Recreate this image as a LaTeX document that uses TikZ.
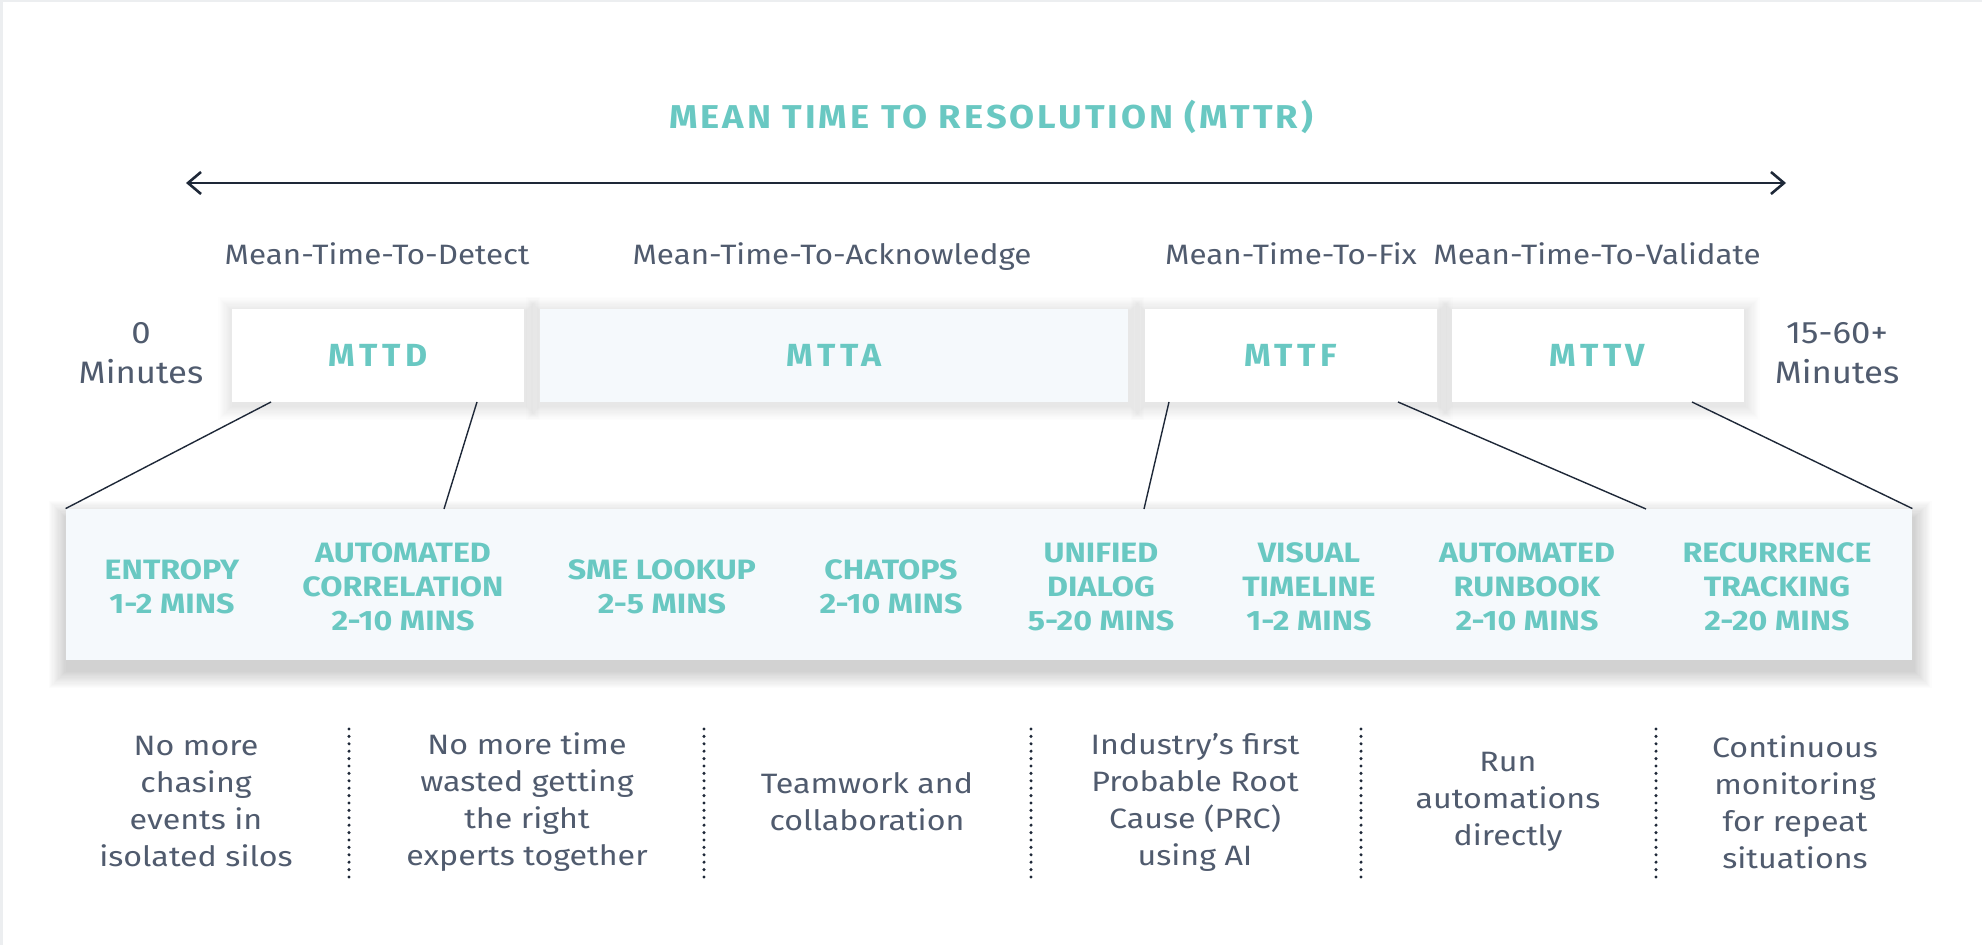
\documentclass[tikz,border=0pt]{standalone}
\usepackage{fontspec}
\setmainfont{Fira Sans}
\newfontfamily\lblfont[FakeStretch=1.12]{Fira Sans}
\newfontfamily\descfont[FakeStretch=1.15]{Fira Sans}
\newfontfamily\phasefont[LetterSpace=14,FakeStretch=1.06]{Fira Sans}
\newfontfamily\titlefont[LetterSpace=9,FakeStretch=1.1]{Fira Sans}
\newfontfamily\itemfont[FakeStretch=1.15]{Fira Sans}
\usetikzlibrary{arrows.meta}
\pgfdeclarelayer{bg}
\pgfsetlayers{bg,main}
\definecolor{teal1}{HTML}{69C8C2}
\definecolor{slate}{HTML}{505B6E}
\definecolor{ink}{HTML}{1E2838}
\definecolor{pale}{HTML}{F5F9FC}
\definecolor{edge}{HTML}{ECEEF0}
\tikzset{
  lbl/.style={font=\lblfont\fontsize{14}{16}\selectfont, text=slate, inner sep=0pt, anchor=base},
  mins/.style={font=\lblfont\fontsize{15.5}{20}\selectfont, text=slate, inner sep=0pt, align=center},
  desc/.style={font=\descfont\fontsize{14}{18.5}\selectfont, text=slate, align=center, inner sep=0pt},
  item/.style={font=\itemfont\bfseries\fontsize{14}{17}\selectfont, text=teal1, align=center, inner sep=0pt},
  phase/.style={fill=white, minimum width=146pt, minimum height=46.5pt, inner sep=0pt,
     font=\phasefont\bfseries\fontsize{16}{18}\selectfont, text=teal1},
  link/.style={draw=ink, line width=0.7pt},
  sep/.style={draw=ink, line width=1.7pt, line cap=round, dash pattern=on 0pt off 3.7pt},
  shade/.style={fill=black, opacity=#1},
}
% soft shadow behind a node: #1 node, #2 downward offset (pt), #3 steps, #4 opacity per step
\newcommand{\softshade}[4]{%
  \foreach \e in {1,...,#3}{%
    \fill[shade=#4] ([xshift=-\e*0.6pt+0.6pt, yshift=\e*0.6pt-#2]#1.north west)
      rectangle ([xshift=\e*0.6pt+0.6pt, yshift=-\e*0.6pt-#2]#1.south east);
  }%
}
\begin{document}
\begin{tikzpicture}[x=0.5pt, y=-0.5pt]
\begin{pgfonlayer}{bg}
\fill[edge] (0,0) rectangle (1982,945);
\fill[white] (3,2) rectangle (1982,945);
\end{pgfonlayer}
\useasboundingbox (0,0) rectangle (1982,945);

% title
\node[font=\titlefont\bfseries\fontsize{16.5}{20}\selectfont, text=teal1, inner sep=0pt, anchor=base] (title) at (991,129) {MEAN TIME TO RESOLUTION (MTTR)};

% timeline arrow
\coordinate (aL) at (186,183);
\coordinate (aR) at (1786,183);
\draw[ink, line width=1.3pt, {Straight Barb[length=6.5pt,width=11pt]}-{Straight Barb[length=6.5pt,width=11pt]}] (aL) -- (aR);

% phase labels
\node[lbl] (ld) at (377,265) {Mean-Time-To-Detect};
\node[lbl] (la) at (832,265) {Mean-Time-To-Acknowledge};
\node[lbl] (lf) at (1291,265) {Mean-Time-To-Fix};
\node[lbl] (lv) at (1597,265) {Mean-Time-To-Validate};

% start / end
\node[mins] (start) at (141,353) {0\\Minutes};
\node[mins] (end) at (1837,353) {15-60+\\Minutes};

% phase boxes
\node[phase] (mttd) at (378,355.5) {MTTD};
\node[phase, fill=pale, minimum width=294pt] (mtta) at (834,355.5) {MTTA};
\node[phase] (mttf) at (1290.5,355.5) {MTTF};
\node[phase] (mttv) at (1597.5,355.5) {MTTV};

% big box
\node[fill=pale, minimum width=923pt, minimum height=75.5pt, inner sep=0pt] (big) at (989,584.5) {};

\begin{pgfonlayer}{bg}
\softshade{mttd}{1.5pt}{12}{0.008}
\softshade{mtta}{1.5pt}{12}{0.008}
\softshade{mttf}{1.5pt}{12}{0.008}
\softshade{mttv}{1.5pt}{12}{0.008}
\softshade{big}{5pt}{15}{0.011}
\end{pgfonlayer}

% connectors
\coordinate (d1) at (271,402);
\coordinate (d2) at (477,402);
\coordinate (f1) at (1169,402);
\coordinate (f2) at (1398,402);
\coordinate (v1) at (1692,402);
\coordinate (b2) at (444,509);
\coordinate (b3) at (1144,509);
\coordinate (b4) at (1646,509);
\draw[link] (d1) -- (big.north west);
\draw[link] (d2) -- (b2);
\draw[link] (f1) -- (b3);
\draw[link] (f2) -- (b4);
\draw[link] (v1) -- (big.north east);

% items
\node[item] (i1) at (172,587) {ENTROPY\\1-2 MINS};
\node[item] (i2) at (403,587) {AUTOMATED\\CORRELATION\\2-10 MINS};
\node[item] (i3) at (662,587) {SME LOOKUP\\2-5 MINS};
\node[item] (i4) at (891,587) {CHATOPS\\2-10 MINS};
\node[item] (i5) at (1101,587) {UNIFIED\\DIALOG\\5-20 MINS};
\node[item] (i6) at (1309,587) {VISUAL\\TIMELINE\\1-2 MINS};
\node[item] (i7) at (1527,587) {AUTOMATED\\RUNBOOK\\2-10 MINS};
\node[item] (i8) at (1777,587) {RECURRENCE\\TRACKING\\2-20 MINS};

% descriptions
\node[desc] (t1) at (196,802) {No more\\chasing\\events in\\isolated silos};
\node[desc] (t2) at (527,802) {No more time\\wasted getting\\the right\\experts together};
\node[desc] (t3) at (867,802) {Teamwork and\\collaboration};
\node[desc] (t4) at (1195,802) {Industry’s first\\Probable Root\\Cause (PRC)\\using AI};
\node[desc] (t5) at (1508,802) {Run\\automations\\directly};
\node[desc] (t6) at (1795,802) {Continuous\\monitoring\\for repeat\\situations};

% dotted separators
\foreach \x in {349,704,1031,1361,1656}
  \draw[sep] (\x,729) -- (\x,877);
\end{tikzpicture}
\end{document}
